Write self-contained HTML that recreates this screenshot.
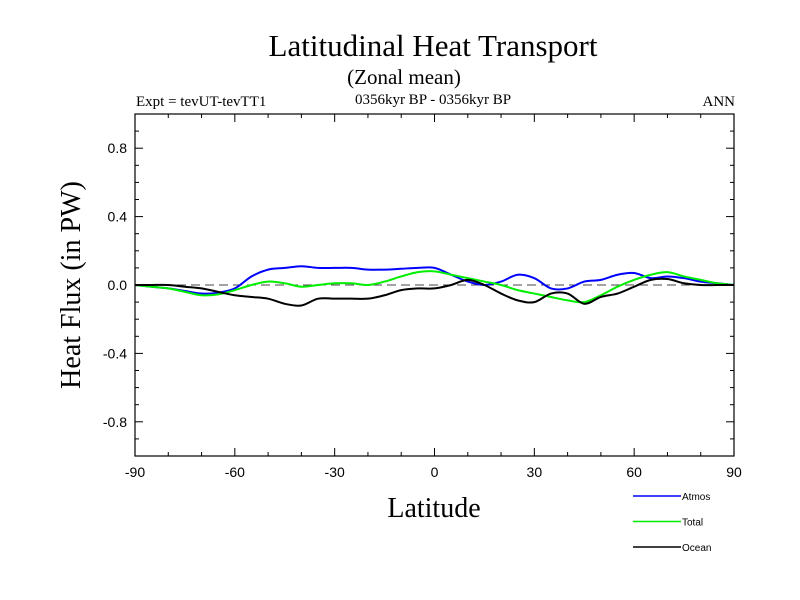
<!DOCTYPE html>
<html><head><meta charset="utf-8"><style>
body{margin:0;background:#fff}
svg{display:block}
</style></head><body>
<svg id="chart" width="800" height="600" xmlns="http://www.w3.org/2000/svg" font-family="Liberation Sans, sans-serif">
<text x="433" y="56" font-family="Liberation Serif, serif" font-size="31" text-anchor="middle">Latitudinal Heat Transport</text>
<text x="404" y="84" font-family="Liberation Serif, serif" font-size="21" text-anchor="middle">(Zonal mean)</text>
<text x="136" y="106" font-family="Liberation Serif, serif" font-size="15">Expt = tevUT-tevTT1</text>
<text x="433" y="104" font-family="Liberation Serif, serif" font-size="15" text-anchor="middle">0356kyr BP - 0356kyr BP</text>
<text x="735" y="106" font-family="Liberation Serif, serif" font-size="15" text-anchor="end">ANN</text>
<text x="434" y="517" font-family="Liberation Serif, serif" font-size="28" text-anchor="middle">Latitude</text>
<text transform="translate(80,285) rotate(-90)" font-family="Liberation Serif, serif" font-size="28" text-anchor="middle">Heat Flux (in PW)</text>
<g id="axes"></g>
<g id="series"></g>
<g id="legend"></g>
</svg>
<script>
const lats=[-90,-85,-80,-75,-70,-65,-60,-55,-50,-45,-40,-35,-30,-25,-20,-15,-10,-5,0,5,10,15,20,25,30,35,40,45,50,55,60,65,70,75,80,85,90];
const atmos=[0,-0.01,-0.02,-0.035,-0.05,-0.045,-0.02,0.05,0.09,0.1,0.11,0.1,0.1,0.1,0.09,0.09,0.095,0.1,0.1,0.06,0.02,0.0,0.02,0.06,0.04,-0.02,-0.02,0.02,0.03,0.06,0.07,0.04,0.05,0.04,0.02,0.01,0];
const total=[0,-0.01,-0.02,-0.04,-0.06,-0.055,-0.03,0.0,0.02,0.01,-0.01,0.0,0.01,0.01,0.0,0.02,0.05,0.075,0.08,0.06,0.04,0.02,0.0,-0.03,-0.05,-0.07,-0.09,-0.1,-0.06,-0.01,0.03,0.06,0.075,0.05,0.03,0.01,0];
const ocean=[0,0,0,-0.01,-0.02,-0.04,-0.06,-0.07,-0.08,-0.11,-0.12,-0.08,-0.08,-0.08,-0.08,-0.06,-0.03,-0.02,-0.02,0.0,0.03,0.0,-0.05,-0.09,-0.1,-0.05,-0.05,-0.11,-0.07,-0.05,-0.01,0.03,0.035,0.01,0.0,0.0,0];
const xTicks=[-90,-60,-30,0,30,60,90];
const yTicks=[-0.8,-0.4,0.0,0.4,0.8];
const yTickLabels=["-0.8","-0.4","0.0","0.4","0.8"];
const names=["Atmos","Total","Ocean"];
const colors=["#0000ff","#00ee00","#000000"];

const L=135,R=734,T=114,B=456;
const xs=v=>L+(v+90)/180*(R-L);
const ys=v=>(T+B)/2-v*(B-T)/2;
const NS="http://www.w3.org/2000/svg";
function mk(tag,parent,attrs){const e=document.createElementNS(NS,tag);for(const k in attrs)e.setAttribute(k,attrs[k]);parent.appendChild(e);return e;}
const ax=document.getElementById('axes');
let frame=mk('rect',ax,{x:L,y:T,width:R-L,height:B-T,fill:'none',stroke:'#000','stroke-width':1.2});


let zl=mk('line',ax,{x1:L,x2:R,y1:ys(0),y2:ys(0),stroke:'#444','stroke-dasharray':'9,5','stroke-width':1});


for(let v=-80;v<=80;v+=10){const x=xs(v);const major=v%30===0;const len=major?8:4;
 const t1=mk('line',ax,{x1:x,x2:x,y1:B,y2:B-len,stroke:'#000'});
 
 
 const t2=mk('line',ax,{x1:x,x2:x,y1:T,y2:T+len,stroke:'#000'});
 
 }
xTicks.forEach(v=>{const t=mk('text',ax,{x:xs(v),y:477,'font-size':14,'text-anchor':'middle'});t.textContent=v;
 
 });
for(let i=-9;i<=9;i++){const v=i/10;const y=ys(v);const len=(i%4===0)?8:4;
 const t1=mk('line',ax,{x1:L,x2:L+len,y1:y,y2:y,stroke:'#000'});
 
 
 const t2=mk('line',ax,{x1:R,x2:R-len,y1:y,y2:y,stroke:'#000'});
 
 }
yTicks.forEach((v,i)=>{const t=mk('text',ax,{x:127,y:ys(v)+5,'font-size':14,'text-anchor':'end'});t.textContent=yTickLabels[i];
 
 });
const sg=document.getElementById('series');
function path(vals){const p=lats.map((la,i)=>[xs(la),ys(vals[i])]);let d='M'+p[0][0]+','+p[0][1];
 for(let i=0;i<p.length-1;i++){const p0=p[Math.max(0,i-1)],p1=p[i],p2=p[i+1],p3=p[Math.min(p.length-1,i+2)];
 d+=' C'+(p1[0]+(p2[0]-p0[0])/6)+','+(p1[1]+(p2[1]-p0[1])/6)+' '+(p2[0]-(p3[0]-p1[0])/6)+','+(p2[1]-(p3[1]-p1[1])/6)+' '+p2[0]+','+p2[1];}
 return d;}
[atmos,total,ocean].forEach((s,i)=>{const e=mk('path',sg,{d:path(s),fill:'none',stroke:colors[i],'stroke-width':2});
 
 });
const lg=document.getElementById('legend');
names.forEach((n,i)=>{const y=496+i*25.5;
 const l=mk('line',lg,{x1:633,x2:681,y1:y,y2:y,stroke:colors[i],'stroke-width':1.5});
 
 
 const t=mk('text',lg,{x:682,y:y+4,'font-size':10});t.textContent=n;
 
 });
</script>
</body></html>
